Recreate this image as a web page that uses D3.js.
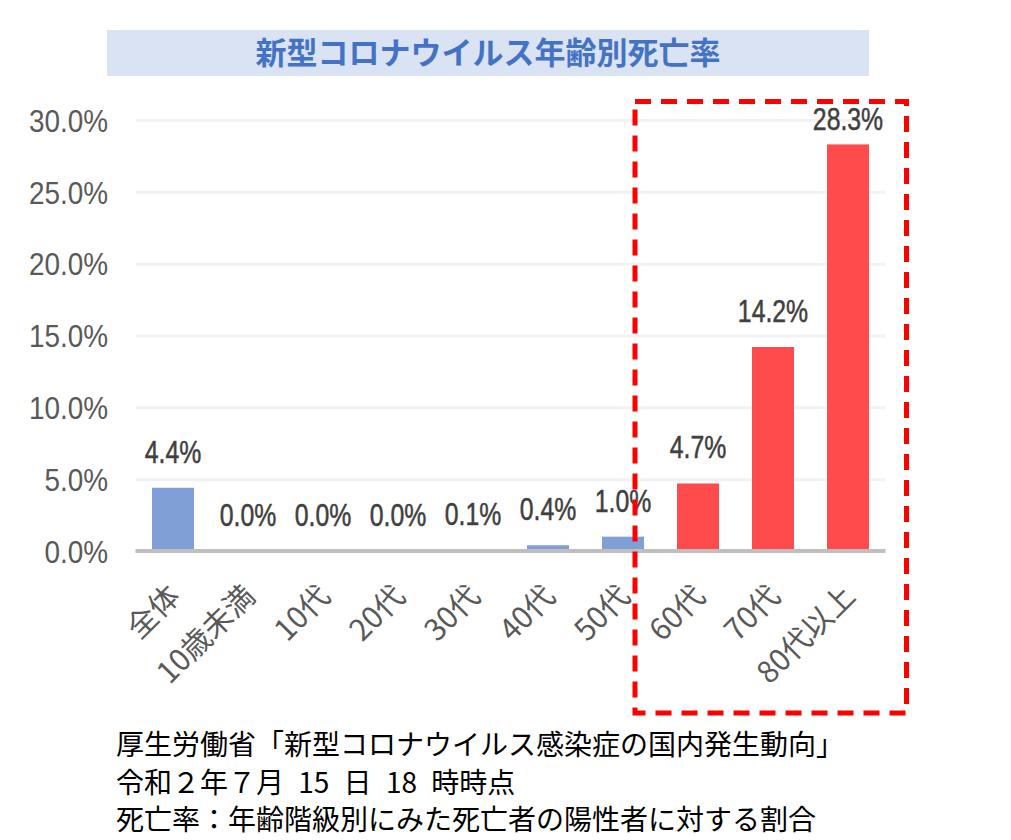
<!DOCTYPE html>
<html>
<head>
<meta charset="utf-8">
<script src="https://cdn.jsdelivr.net/npm/d3@7"></script>
<style>
  body { margin: 0; background: #fff; }
  svg { display: block; }
</style>
</head>
<body>
<div class="chart"></div>
<script>
// data
var categories = ["全体", "10歳未満", "10代", "20代", "30代", "40代", "50代", "60代", "70代", "80代以上"];
var deathRates = [4.4, 0.0, 0.0, 0.0, 0.1, 0.4, 1.0, 4.7, 14.2, 28.3];
var highlighted = ["60代", "70代", "80代以上"];
var yTicks = [0, 5, 10, 15, 20, 25, 30];
var chartTitle = "新型コロナウイルス年齢別死亡率";
var notes = [
    "厚生労働省「新型コロナウイルス感染症の国内発生動向」",
    "令和２年７月 15 日 18 時時点",
    "死亡率：年齢階級別にみた死亡者の陽性者に対する割合"
];

var svgWidth = 1011;
var svgHeight = 840;
var plot = { left: 135.5, right: 885.5, top: 120, bottom: 551 };

var svg = d3.select(".chart")
    .append("svg")
    .attr("width", svgWidth)
    .attr("height", svgHeight);

var xScale = d3.scaleBand()
    .domain(categories)
    .range([plot.left, plot.right])
    .paddingInner(0.44)
    .paddingOuter(0.22);

var yScale = d3.scaleLinear()
    .domain([0, 30])
    .range([plot.bottom, plot.top]);

var fmt = function(v) { return d3.format(".1f")(v) + "%"; };

// title band
svg.append("rect")
    .attr("x", 107)
    .attr("y", 30)
    .attr("width", 762)
    .attr("height", 46)
    .attr("fill", "#dae3f3");
svg.append("text")
    .attr("x", 488)
    .attr("y", 64)
    .attr("text-anchor", "middle")
    .attr("font-family", "'Noto Sans CJK JP', sans-serif")
    .attr("font-weight", "bold")
    .attr("font-size", "31px")
    .attr("fill", "#4472c4")
    .text(chartTitle);

// gridlines
var grid = svg.append("g")
    .attr("transform", "translate(" + plot.left + ",0)")
    .call(d3.axisLeft(yScale).tickValues(yTicks.slice(1)).tickSize(-(plot.right - plot.left)).tickFormat(""));
grid.select(".domain").remove();
grid.selectAll("line").attr("stroke", "#f2f2f2").attr("stroke-width", 3);

// y axis labels
var yAxis = svg.append("g")
    .attr("transform", "translate(108,0)")
    .call(d3.axisLeft(yScale).tickValues(yTicks).tickSize(0).tickPadding(0).tickFormat(fmt));
yAxis.select(".domain").remove();
yAxis.selectAll("text")
    .attr("font-family", "'Liberation Sans', Arial, sans-serif")
    .attr("font-size", "31px")
    .attr("fill", "#595959")
    .attr("transform", "scale(0.9,1)")
    .attr("dy", "0.36em");

// bars
svg.append("g")
    .selectAll("rect")
    .data(deathRates)
    .enter()
    .append("rect")
    .attr("x", function(d, i) { return xScale(categories[i]); })
    .attr("y", function(d) { return yScale(d); })
    .attr("width", xScale.bandwidth())
    .attr("height", function(d) { return plot.bottom - yScale(d); })
    .attr("fill", function(d, i) {
        return highlighted.indexOf(categories[i]) >= 0 ? "#ff4b4b" : "#7f9fd6";
    });

// value labels
svg.append("g")
    .selectAll("g")
    .data(deathRates)
    .enter()
    .append("g")
    .attr("transform", function(d, i) {
        var cx = xScale(categories[i]) + xScale.bandwidth() / 2;
        var ly = Math.max(yScale(d) - 25, yScale(30) + 10);
        return "translate(" + cx + "," + ly + ") scale(0.8,1)";
    })
    .append("text")
    .attr("text-anchor", "middle")
    .attr("font-family", "'Liberation Sans', Arial, sans-serif")
    .attr("font-size", "31px")
    .attr("fill", "#404040")
    .attr("stroke", "#404040")
    .attr("stroke-width", 0.5)
    .text(fmt);

// x axis line
svg.append("line")
    .attr("x1", plot.left)
    .attr("x2", plot.right)
    .attr("y1", plot.bottom)
    .attr("y2", plot.bottom)
    .attr("stroke", "#bfbfbf")
    .attr("stroke-width", 4);

// category labels
var xAxis = svg.append("g")
    .attr("transform", "translate(0," + plot.bottom + ")")
    .call(d3.axisBottom(xScale).tickSize(0).tickPadding(0));
xAxis.select(".domain").remove();
xAxis.selectAll("text")
    .attr("font-family", "'Noto Sans CJK JP', sans-serif")
    .attr("font-size", "30px")
    .attr("fill", "#595959")
    .attr("text-anchor", "end")
    .attr("y", 0)
    .attr("dy", 0)
    .attr("transform", "translate(9,47) rotate(-45)");

// red dashed frame round the older groups
var boxLeft = xScale(highlighted[0]) - xScale.bandwidth();
var boxTop = yScale(30) - 18.5;
svg.append("rect")
    .attr("x", boxLeft)
    .attr("y", boxTop)
    .attr("width", plot.right + 21 - boxLeft)
    .attr("height", 713 - boxTop)
    .attr("fill", "none")
    .attr("stroke", "#ff0000")
    .attr("stroke-width", 5)
    .attr("stroke-dasharray", "16,10");

// source notes
svg.append("g")
    .selectAll("text")
    .data(notes)
    .enter()
    .append("text")
    .attr("x", 116)
    .attr("y", function(d, i) { return 755 + i * 37.5; })
    .attr("font-family", "'Noto Sans CJK JP', sans-serif")
    .attr("font-size", "28px")
    .attr("word-spacing", "8px")
    .attr("fill", "#000")
    .text(function(d) { return d; });
</script>
</body>
</html>
